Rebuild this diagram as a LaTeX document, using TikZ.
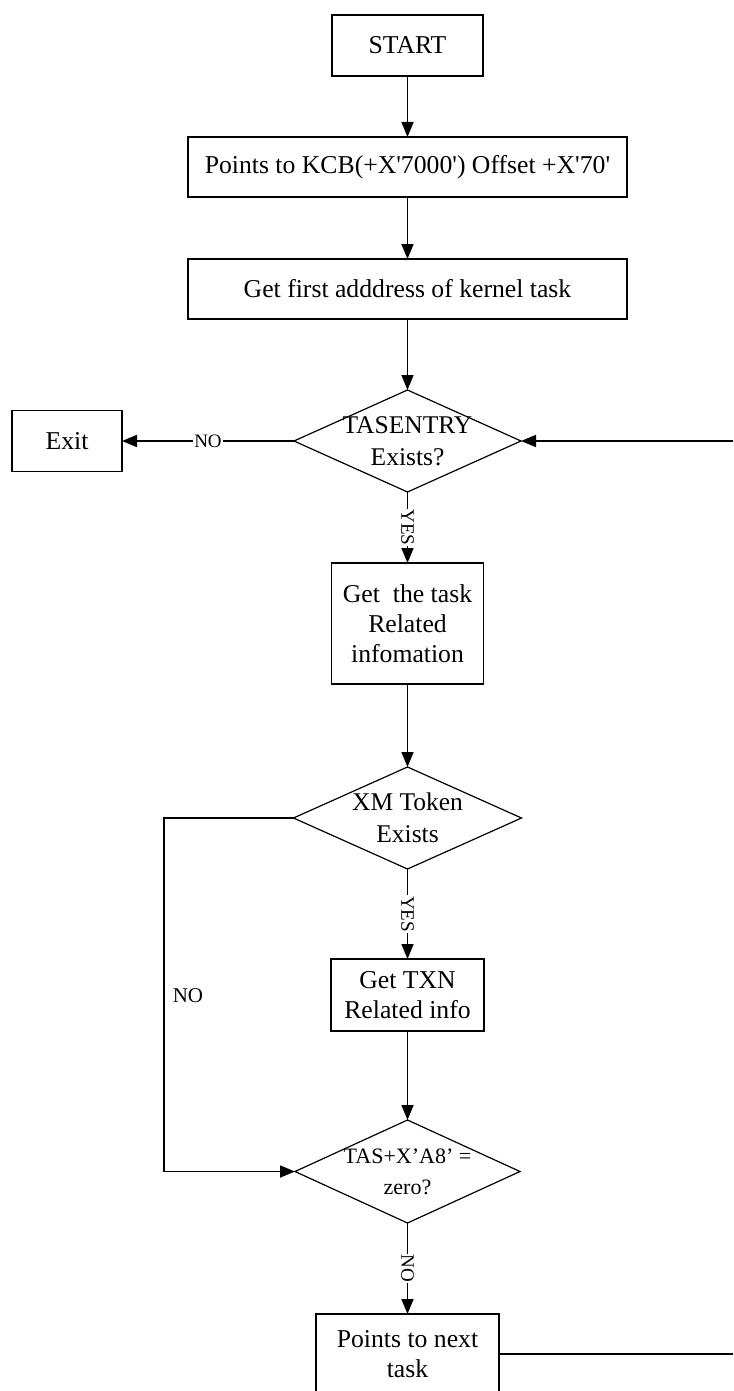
\documentclass[tikz,border=0pt]{standalone}
\usepackage{fontspec}
\setmainfont{Liberation Serif}
\usetikzlibrary{shapes.geometric,arrows.meta}
\begin{document}
\begin{tikzpicture}[x=1pt,y=-1pt,
 box/.style={draw,line width=1.7pt,rectangle,inner sep=0pt,outer sep=0pt,align=center,font=\fontsize{25.7}{30}\selectfont},
 dia/.style={draw,line width=1.2pt,diamond,inner sep=0pt,outer sep=0pt},
 dtxt/.style={align=center,inner sep=0pt,font=\fontsize{25.5}{31.5}\selectfont},
 arr/.style={line width=1.7pt,-{Triangle[length=15pt,width=12pt]}},
 lab/.style={fill=white,inner sep=1pt,font=\fontsize{19}{21}\selectfont},
]
\useasboundingbox (0,0) rectangle (733,1391);
\clip (0,0) rectangle (733,1391);
\fill[white] (0,0) rectangle (733,1391);

\node[box,minimum width=151pt,minimum height=61pt] (start) at (407.5,45.5) {START};
\node[box,minimum width=439pt,minimum height=60pt] (kcb) at (407.5,167) {Points to KCB(+X\textquotesingle 7000\textquotesingle) Offset +X\textquotesingle 70\textquotesingle};
\node[box,minimum width=439pt,minimum height=60pt] (first) at (407.5,289) {Get first adddress of kernel task};
\node[dia,minimum width=227pt,minimum height=102pt] (d1) at (407.5,441) {};
\node[dtxt] (d1t) at (d1) {TASENTRY\\Exists?};
\node[box,minimum width=110pt,minimum height=61pt] (exit) at (67,441) {Exit};
\node[box,minimum width=152pt,minimum height=121pt] (task) at (407.5,623.5) {Get\ \ the task\\Related\\infomation};
\node[dia,minimum width=228pt,minimum height=102pt] (d2) at (407.5,818) {};
\node[dtxt] (d2t) at (d2) {XM Token\\Exists};
\node[box,minimum width=153pt,minimum height=72pt] (txn) at (407.5,995) {Get TXN\\Related info};
\node[dia,minimum width=225pt,minimum height=103pt] (d3) at (407.5,1171.5) {};
\node[dtxt,font=\fontsize{22}{31}\selectfont] (d3t) at (d3) {TAS+X’A8’ =\\zero?};
\node[box,minimum width=183pt,minimum height=80pt] (next) at (407.5,1354) {Points to next\\task};
\coordinate (lft) at (164,1000);
\coordinate (rgt) at (780,900);

\draw[arr] (start) -- (kcb);
\draw[arr] (kcb) -- (first);
\draw[arr] (first) -- (d1);
\draw[arr] (d1.west) -- node[lab]{NO} (exit.east);
\draw[arr] (d1.south) -- node[lab,rotate=-90]{YES} (task.north);
\draw[arr] (task) -- (d2);
\draw[arr] (d2.south) -- node[lab,rotate=-90]{YES} (txn.north);
\draw[arr] (txn) -- (d3);
\draw[arr] (d2.west) -| (lft) |- (d3.west);
\node[font=\fontsize{21}{24}\selectfont] (nolab) at (188,996) {NO};
\draw[arr] (d3.south) -- node[lab,rotate=-90]{NO} (next.north);
\draw[arr] (next.east) -| (rgt) |- (d1.east);
\end{tikzpicture}
\end{document}
